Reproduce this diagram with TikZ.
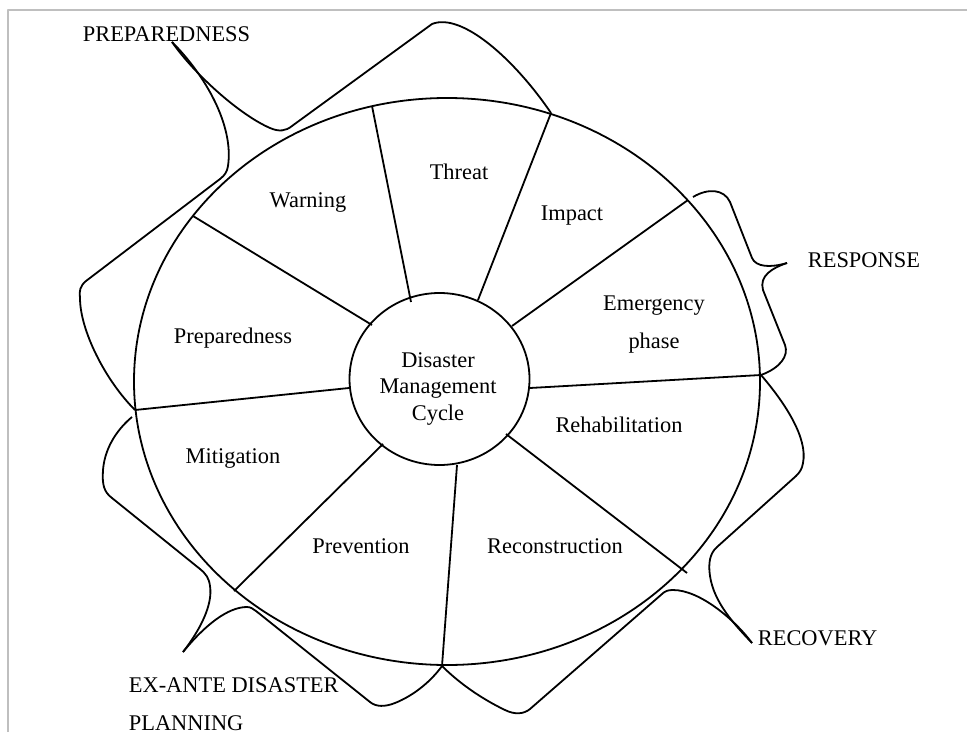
\documentclass[tikz,border=0pt]{standalone}
\usepackage{fontspec}
\setmainfont{Liberation Serif}
\begin{document}
\begin{tikzpicture}[x=0.5pt,y=-0.5pt, line width=0.9pt, line join=round,
  lab/.style={font=\fontsize{11.2}{13.5}\selectfont, inner sep=0pt, anchor=base},
  outlab/.style={font=\fontsize{11.2}{13.5}\selectfont, inner sep=0pt, anchor=base west},
  spoke/.style={line width=0.9pt},
  bracecurve/.style={line width=0.9pt},
  frameline/.style={draw=black!25, line width=0.6pt}]
\useasboundingbox (0,0) rectangle (967,732);
\draw[frameline] (8,732) -- (8,10) -- (967,10);

% wheel
\draw (447,381.5) ellipse [x radius=156.5pt, y radius=141.75pt];
\draw (439.5,379) ellipse [x radius=45pt, y radius=43pt];

% spoke end points
\coordinate (o1) at (372,106);  \coordinate (i1) at (411,302);
\coordinate (o2) at (551,113);  \coordinate (i2) at (478,300);
\coordinate (o3) at (688,200);  \coordinate (i3) at (512,326);
\coordinate (o4) at (761,375);  \coordinate (i4) at (530,388);
\coordinate (o5) at (687,573);  \coordinate (i5) at (506,434);
\coordinate (o6) at (442,666);  \coordinate (i6) at (457,465);
\coordinate (o7) at (234,591);  \coordinate (i7) at (383,444);
\coordinate (o8) at (135,410);  \coordinate (i8) at (349,388);
\coordinate (o9) at (193,216);  \coordinate (i9) at (372,325);
\foreach \k in {1,...,9} { \draw[spoke] (i\k) -- (o\k); }

% sector labels
\node[lab] (warning) at (308,208) {Warning};
\node[lab] (threat) at (459,180) {Threat};
\node[lab] (impact) at (572,221) {Impact};
\node[lab] (emerg) at (654,310) {Emergency};
\node[lab] (phase) at (654,348) {phase};
\node[lab] (rehab) at (619,432) {Rehabilitation};
\node[lab] (recon) at (555,553) {Reconstruction};
\node[lab] (prev) at (361,553) {Prevention};
\node[lab] (mitig) at (233,463) {Mitigation};
\node[lab] (prep) at (233,343) {Preparedness};
\node[lab] (c1) at (438,367) {Disaster};
\node[lab] (c2) at (438,393) {Management};
\node[lab] (c3) at (438,420) {Cycle};

% outer labels
\node[outlab] (lprep) at (82,42) {PREPAREDNESS};
\node[outlab] (lresp) at (807,268) {RESPONSE};
\node[outlab] (lrec) at (757,645) {RECOVERY};
\node[outlab] (lex1) at (128,692) {EX-ANTE DISASTER};
\node[outlab] (lex2) at (128,730) {PLANNING};

% brace tips
\coordinate (t1) at (172,42);
\coordinate (t2) at (787,263);
\coordinate (t3) at (752,643);
\coordinate (t4) at (183,652);

% PREPAREDNESS brace
\draw[bracecurve] (o2) .. controls (515,60) and (462,12) .. (432,24)
  -- (292,126) .. controls (286,131) and (279,132) .. (270,128)
  .. controls (240,115) and (195,75) .. (t1);
\draw[bracecurve] (t1) .. controls (205,75) and (234,125) .. (228,166)
  .. controls (227,172) and (225,175) .. (220,179)
  -- (86,281) .. controls (80,286) and (79,291) .. (80,298)
  .. controls (80,330) and (105,380) .. (o8);

% RESPONSE brace
\draw[bracecurve] (o3) ++(5,-3) .. controls (708,188) and (724,189) .. (730,202)
  -- (752,258) .. controls (756,267) and (770,268) .. (t2);
\draw[bracecurve] (t2) .. controls (772,268) and (759,276) .. (763,290)
  -- (785,345) .. controls (789,356) and (780,368) .. (o4);

% RECOVERY brace
\draw[bracecurve] (o4) .. controls (785,403) and (808,438) .. (803,463)
  .. controls (802,469) and (800,472) .. (796,476)
  -- (717,547) .. controls (710,553) and (708,563) .. (710,576)
  .. controls (714,603) and (735,625) .. (t3);
\draw[bracecurve] (t3) .. controls (735,620) and (700,590) .. (673,590)
  .. controls (668,590) and (665,591) .. (662,594)
  -- (530,709) .. controls (524,714) and (515,715) .. (505,710)
  .. controls (480,698) and (458,682) .. (o6);

% EX-ANTE brace
\draw[bracecurve] (t4) .. controls (200,630) and (213,605) .. (210,586)
  .. controls (209,578) and (206,574) .. (200,569)
  -- (112,498) .. controls (104,492) and (102,485) .. (103,470)
  .. controls (105,445) and (120,427) .. (132,417);
\draw[bracecurve] (t4) .. controls (205,625) and (228,607) .. (247,607)
  .. controls (251,607) and (253,609) .. (256,611)
  -- (370,702) .. controls (376,707) and (385,707) .. (395,703)
  .. controls (415,695) and (432,680) .. (o6);
\end{tikzpicture}
\end{document}
